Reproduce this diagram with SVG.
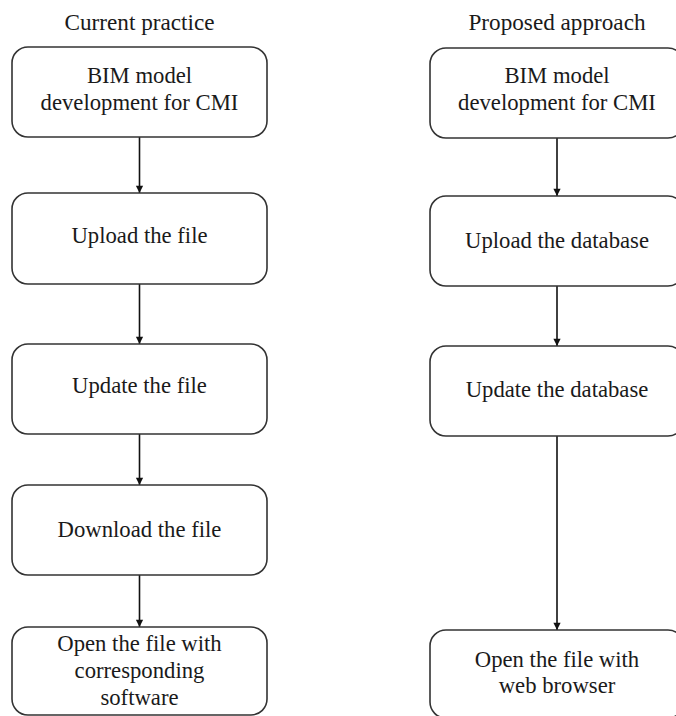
<svg xmlns="http://www.w3.org/2000/svg" width="676" height="716" viewBox="0 0 676 716">
<style>
text{font-family:"Liberation Serif","Times New Roman",serif;font-size:22.7px;fill:#1a1a1a;text-anchor:middle}
text.t{font-size:23.2px}
.box{fill:#fff;stroke:#333;stroke-width:1.6}
.arr{stroke:#111;stroke-width:1.6;fill:none;marker-end:url(#ah)}
</style>
<defs>
<marker id="ah" viewBox="0 0 8 10" refX="8" refY="5" markerWidth="8" markerHeight="9" markerUnits="userSpaceOnUse" orient="auto">
<path d="M0,1 L8,5 L0,9 Z" fill="#111"/>
</marker>
</defs>
<rect width="676" height="716" fill="#fff"/>
<text class="t" x="139.5" y="30">Current practice</text>
<text class="t" x="557" y="30">Proposed approach</text>
<g id="connectors">
<line class="arr" x1="139.5" y1="137" x2="139.5" y2="193"/>
<line class="arr" x1="139.5" y1="284" x2="139.5" y2="344"/>
<line class="arr" x1="139.5" y1="434" x2="139.5" y2="485"/>
<line class="arr" x1="139.5" y1="575" x2="139.5" y2="627"/>
<line class="arr" x1="557" y1="138" x2="557" y2="196"/>
<line class="arr" x1="557" y1="286" x2="557" y2="346"/>
<line class="arr" x1="557" y1="436" x2="557" y2="630"/>
</g>
<g id="l1"><rect class="box" x="12" y="47" width="255" height="90" rx="16"/><text x="139.5" y="83">BIM model</text><text x="139.5" y="110">development for CMI</text></g>
<g id="l2"><rect class="box" x="12" y="193" width="255" height="91" rx="16"/><text x="139.5" y="243">Upload the file</text></g>
<g id="l3"><rect class="box" x="12" y="344" width="255" height="90" rx="16"/><text x="139.5" y="393">Update the file</text></g>
<g id="l4"><rect class="box" x="12" y="485" width="255" height="90" rx="16"/><text x="139.5" y="537">Download the file</text></g>
<g id="l5"><rect class="box" x="12" y="627" width="255" height="88" rx="16"/><text x="139.5" y="651">Open the file with</text><text x="139.5" y="678">corresponding</text><text x="139.5" y="705">software</text></g>
<g id="r1"><rect class="box" x="430" y="48" width="254" height="90" rx="16"/><text x="557" y="83">BIM model</text><text x="557" y="110">development for CMI</text></g>
<g id="r2"><rect class="box" x="430" y="196" width="254" height="90" rx="16"/><text x="557" y="248">Upload the database</text></g>
<g id="r3"><rect class="box" x="430" y="346" width="254" height="90" rx="16"/><text x="557" y="397">Update the database</text></g>
<g id="r4"><rect class="box" x="430" y="630" width="254" height="88" rx="16"/><text x="557" y="667">Open the file with</text><text x="557" y="693">web browser</text></g>
</svg>
